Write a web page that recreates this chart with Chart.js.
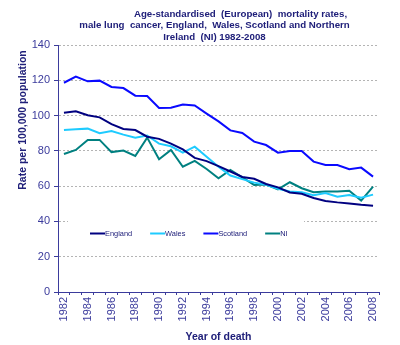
<!DOCTYPE html>
<html>
<head>
<meta charset="utf-8">
<title>Male lung cancer mortality, UK nations 1982-2008</title>
<script src="https://cdn.jsdelivr.net/npm/chart.js@4/dist/chart.umd.min.js"></script>
<style>
  html, body { margin: 0; padding: 0; background: #ffffff; }
  #c { display: block; }
</style>
</head>
<body>
<canvas id="c" width="400" height="345"></canvas>
<script>
// Year of death
const years = ['1982','1983','1984','1985','1986','1987','1988','1989','1990','1991','1992','1993','1994',
               '1995','1996','1997','1998','1999','2000','2001','2002','2003','2004','2005','2006','2007','2008'];

// Age-standardised (European) rates per 100,000 population, males, lung cancer
const england  = [101.6, 102.4, 100.2, 99.0, 95.1, 92.4, 91.8, 88.0, 86.8, 84.1, 80.8, 76.0, 74.2, 71.3,
                  68.3, 65.2, 64.2, 61.2, 59.3, 56.4, 55.7, 53.3, 51.6, 50.8, 50.2, 49.4, 48.9];
const wales    = [91.8, 92.2, 92.6, 90.0, 91.2, 89.2, 87.4, 88.7, 84.1, 82.6, 79.0, 82.4, 76.7, 71.0,
                  66.0, 64.0, 62.0, 60.8, 58.5, 57.0, 56.5, 54.8, 56.1, 54.0, 55.0, 53.5, 55.2];
const scotland = [118.6, 122.1, 119.4, 119.8, 116.2, 115.6, 111.3, 111.1, 104.3, 104.4, 106.3, 105.7, 101.1, 96.7,
                  91.6, 90.1, 85.2, 83.3, 79.0, 79.9, 79.9, 73.9, 72.0, 72.0, 69.6, 70.5, 65.4];
const ni       = [78.2, 80.5, 86.2, 86.2, 79.3, 80.2, 77.1, 87.5, 75.2, 80.5, 71.0, 74.3, 69.7, 64.5,
                  69.2, 65.0, 60.7, 60.9, 58.2, 62.2, 58.8, 56.5, 56.9, 56.9, 57.4, 51.8, 59.7];

// Axis ticks
const yTicks = [0, 20, 40, 60, 80, 100, 120, 140];

const titleLines = [
  'Age-standardised  (European)  mortality rates,',
  'male lung  cancer, England,  Wales, Scotland and Northern',
  'Ireland  (NI) 1982-2008'
];
const yTitle = 'Rate per 100,000 population';
const xTitle = 'Year of death';

const FONT = "'Liberation Sans', Arial, sans-serif";
const AXIS = '#3b3b9c';
const INK  = '#20207a';
const GRID = '#b4b4b4';

// Heading block above the plot
const headingPlugin = {
  id: 'heading',
  afterDraw(chart) {
    const { ctx, chartArea } = chart;
    const cx = (chartArea.left + chartArea.right) / 2;
    const shifts = [22, -4, -4];
    ctx.save();
    ctx.fillStyle = INK;
    ctx.font = 'bold 9.7px ' + FONT;
    ctx.textAlign = 'center';
    ctx.textBaseline = 'middle';
    titleLines.forEach((line, i) => ctx.fillText(line, cx + shifts[i], 14.5 + i * 11.3));
    // vertical axis title
    ctx.translate(23, 120);
    ctx.rotate(-Math.PI / 2);
    ctx.font = 'bold 10.5px ' + FONT;
    ctx.fillText(yTitle, 0, 0);
    ctx.restore();
  }
};

// Boxed key drawn inside the lower part of the plot
const keyPlugin = {
  id: 'key',
  beforeDatasetsDraw(chart) {
    const { ctx } = chart;
    ctx.save();
    ctx.fillStyle = '#ffffff';
    ctx.fillRect(68, 216, 236, 36);
    ctx.font = '7.4px ' + FONT;
    ctx.textBaseline = 'middle';
    ctx.textAlign = 'left';
    let x = 90;
    const y = 233.5;
    chart.data.datasets.forEach(ds => {
      ctx.strokeStyle = ds.borderColor;
      ctx.lineWidth = 2;
      ctx.beginPath();
      ctx.moveTo(x, y);
      ctx.lineTo(x + 15, y);
      ctx.stroke();
      ctx.fillStyle = INK;
      ctx.fillText(ds.label, x + 15, y);
      x += 15 + ctx.measureText(ds.label).width + 18;
    });
    ctx.restore();
  }
};

const series = (label, data, color) => ({
  label, data,
  borderColor: color,
  backgroundColor: color,
  borderWidth: 2,
  pointRadius: 0,
  pointHoverRadius: 0,
  tension: 0,
  fill: false
});

new Chart(document.getElementById('c'), {
  type: 'line',
  data: {
    labels: years,
    datasets: [
      series('England', england, '#000080'),
      series('Wales', wales, '#1ecbff'),
      series('Scotland', scotland, '#0a0aff'),
      series('NI', ni, '#008080')
    ]
  },
  options: {
    responsive: false,
    animation: false,
    events: [],
    layout: { padding: { top: 45, right: 21, bottom: 0, left: 0 } },
    plugins: {
      legend: { display: false },
      title: { display: false },
      tooltip: { enabled: false }
    },
    scales: {
      x: {
        offset: true,
        grid: {
          offset: true,
          drawOnChartArea: false,
          drawTicks: true,
          tickLength: 3,
          tickColor: AXIS,
          color: AXIS
        },
        border: { color: AXIS, width: 1 },
        ticks: {
          autoSkip: false,
          minRotation: 90,
          maxRotation: 90,
          padding: 2,
          color: AXIS,
          font: { family: FONT, size: 11 },
          callback: function (v, i) { return i % 2 === 0 ? this.getLabelForValue(v) : ''; }
        },
        title: {
          display: true,
          text: xTitle,
          color: INK,
          font: { family: FONT, size: 10.5, weight: 'bold' },
          padding: { top: 0, bottom: 2 }
        },
        afterFit(scale) { scale.height = 53; }
      },
      y: {
        min: 0,
        max: 140,
        afterBuildTicks(scale) { scale.ticks = yTicks.map(v => ({ value: v })); },
        grid: {
          color: GRID,
          lineWidth: 1,
          drawTicks: true,
          tickLength: 4,
          tickColor: AXIS
        },
        border: { color: AXIS, width: 1, dash: [2, 2] },
        ticks: {
          padding: 4,
          color: AXIS,
          font: { family: FONT, size: 11 }
        },
        afterFit(scale) { scale.width = 58; }
      }
    }
  },
  plugins: [keyPlugin, headingPlugin]
});
</script>
</body>
</html>
